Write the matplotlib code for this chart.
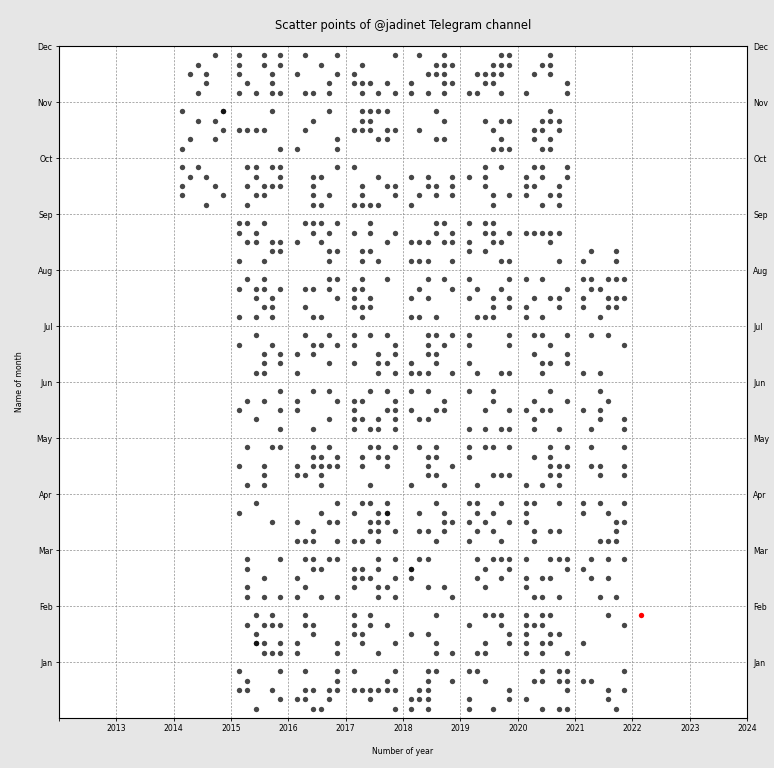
import matplotlib
matplotlib.use("Agg")
import matplotlib.pyplot as plt

# each month: 5 week rows, each row 6 weekday slots ('x' = post, '2' = two posts)
months = ["Jan", "Feb", "Mar", "Apr", "May", "Jun",
          "Jul", "Aug", "Sep", "Oct", "Nov", "Dec"]
years = list(range(2013, 2025))

posts_2014 = [
    "", "", "", "", "", "", "", "", "",
    "x.x... .x.x.. x...x. x....x ...x..",  # Oct
    "x....2 ..x.x. .....x .x..x. x.....",  # Nov
    "....x. ..x... .x.x.. ...x.. ..x...",  # Dec
]
posts_2015 = [
    "x....x .x.... xx..x. .....x ..x...",
    "..x.x. .x.xxx ..x... ..2x.x ...xxx",
    ".x...x .x.... ...x.. .x.... .x.x.x",
    "..x... x..... ....x. ...... ......",
    ".x..xx ...... x..x.. ...x.. .x.x..",
    ".....x .x.x.. x....x ..x... .....x",
    "..x... x...x. ...x.x ...x.x ..xx..",
    ".x.x.. x.xx.x ..x.x. ...xx. x.x.x.",
    "xx.x.. x.x... .xx.xx ....xx x..x..",
    ".xx.xx ..x..x .x.xxx ..xx.. .x....",
    "....x. ...... xxxx.. ...... .....x",
    "x..x.x x..x.x x...x. .x..x. x.x.xx",
]
posts_2016 = [
    ".x...x .....x .xx.xx xx..x. ..xx..",
    ".x.... .xx... ..x... x....x x....x",
    ".xx.xx ..xx.. x..... .x.... x..x.x",
    ".....x ...x.. x...xx ..x... xxx..x",
    "..x.x. ..xx.x x.xxxx xx.x.. ...x..",
    "..x.x. x....x x..... ....x. ..x...",
    ".x..x. ..xx.x x.x... ....x. x.....",
    "....xx .xx.x. .....x .x.... ..xx..",
    ".xxx.x ..x.x. x..x.. ....xx ....x.",
    ".....x ..xx.. ..x... ..x.x. ..xx..",
    "....x. ..x... .x.... .....x x....x",
    ".x...x ...x.. x....x ....x. .xx.x.",
]
posts_2017 = [
    "x....x ....x. xxxxxx ..x... .....x",
    "x.x... x.x.x. xx.... .x...x ...x..",
    "...x.x xx.x.. xxx..x x..xx. ...x.x",
    ".xx.x. x..x2. ..xxx. ..xx.x xx.x..",
    "..xx.x .x.xx. .x..x. ...... ..x...",
    "..x.x. xx...x x...xx xx.x.x x.xx.x",
    "x.x.x. x....x ...x.x x..xx. ...x.x",
    ".x..x. xx.... x.x... xxx... .x....",
    "..x... x.x..x ....x. .xx... .x.x..",
    "x..... ...x.. .x..xx .x...x xxxx..",
    ".xxxx. .xx... xxx.xx ...xx. ......",
    ".....x .x.... x..... xxx.x. .x.x.x",
]
posts_2018 = [
    "..xx.. ..x..x .xx... xxx... x.x...",
    "...x.. ...... x.x... ...x.. ...x.x",
    ".xx... 2..... x..... ..x.x. .....x",
    "...x.. .x..x. ....xx .xx.x. ...x..",
    ".x.x.. ..xx.. ..x..x ..xx.. x...x.",
    "x.x... ....x. x..xx. .xx... ......",
    "..xx.x ..x.x. ..xx.. x..x.. xxx..x",
    "..x.x. .x...x x.x... ...... xx.x..",
    "...xx. ...x.x xxx.xx ...... xxx..x",
    "...... x.x..x ..xx.x .x.x.x x.....",
    "...x.. ....x. .x.... ...xx. ......",
    ".x..x. ...xxx ..xxx. x...xx x.x.x.",
]
posts_2019 = [
    "xx.... ..x... .....x x....x x..x..",
    "..xxx. x...x. .....x ..x..x .xx...",
    ".x.xxx ..x..x .x..x. ..x... ......",
    "xx..x. .x.x.. x.x..x .x.x.. x...x.",
    "x.xx.x x..... ...... ...xxx .x....",
    "x..x.. ...x.. ..x..x ...... x.x.xx",
    "x....x x....x ...... x..... .x..xx",
    "x....x .x..x. x..x.x ...x.x .xxx..",
    "x.xx.. ..xx.x x..xx. x.x... ....xx",
    "..x.x. x.x... ..x... ...x.x ...x..",
    "...... ..x.xx ...x.. ....x. ...xxx",
    "....xx ...xxx .xxxx. ..xx.. xx..x.",
]
posts_2020 = [
    "..x.xx .xx.xx .....x x..... ..x.xx",
    "x.xx.. xxx... x..xx. x.xx.. x.x..x",
    "x..xxx .....x x.xx.. x..... .xx.x.",
    "xx..x. x..... x..... .x.xx. .x....",
    "...x.x .x.x.. ...xxx ...xx. x.x.x.",
    "...x.. .x...x x.xx.. .x.... .x..x.",
    ".xx..x ...x.. .x...x ..xx.x ..x...",
    "x.x... .....x .x.xx. x...x. x.x...",
    "...... xxxxx. ...x.. ...... ....x.",
    ".xx..x x.x..x xx..x. x..xx. ..x.x.",
    "...x.. ..xxx. .xx.x. .x.x.. ..xx..",
    "...x.. ..xx.. .x.x.. .....x x....x",
]
posts_2021 = [
    ".....x xx.... ...x.x ...x.. ....x.",
    "...x.. .....x ...... x..... ......",
    ".x.x.x x..... .x.x.. ...... ..x.x.",
    "x.x..x x..x.. ....xx ....x. ..xxx.",
    ".x...x ...... .xx..x ..x..x ......",
    "..x... ...x.. x.x... ..x..x .x...x",
    ".x.x.. .....x ...... ...... x.x...",
    "xx.xxx .xx... x..xxx x..xx. ..x...",
    "...... ...... ...... .x..x. x...x.",
    "", "", "",
]
# most recent post (year, month, weekday slot, week row)
latest = (2022, 2, 1, 1)

all_posts = {2014: posts_2014, 2015: posts_2015, 2016: posts_2016,
             2017: posts_2017, 2018: posts_2018, 2019: posts_2019,
             2020: posts_2020, 2021: posts_2021}


def to_xy(year, month, slot, week):
    return year + slot / 7, month - week / 6


xs, ys = [], []
for year, pats in all_posts.items():
    for m, pat in enumerate(pats, start=1):
        for w, row in enumerate(pat.split(), start=1):
            for s, c in enumerate(row, start=1):
                n = {"x": 1, "2": 2}.get(c, 0)
                for _ in range(n):
                    x, y = to_xy(year, m, s, w)
                    xs.append(x)
                    ys.append(y)

fig = plt.figure(figsize=(7.74, 7.68), dpi=100, facecolor="#e6e6e6")
ax = fig.add_axes([59 / 774, 1 - 718 / 768, 688 / 774, 672 / 768])
ax.set_facecolor("white")

ax.scatter(xs, ys, s=15, color="black", alpha=0.72, linewidths=0, zorder=3)
lx, ly = to_xy(*latest)
ax.scatter([lx], [ly], s=15, color="red", linewidths=0, zorder=4)

ax.set_xlim(2012, 2024)
ax.set_ylim(0, 12)
ax.set_xticks([2012] + years)
ax.set_xticklabels([""] + [str(y) for y in years])
ax.set_yticks(range(1, 13))
ax.set_yticklabels(months)
ax.tick_params(labelsize=5.6, length=2.5, width=0.6, labelright=True, pad=2)
ax.grid(True, linestyle=(0, (3, 2)), color="#8c8c8c", linewidth=0.5)
ax.set_axisbelow(True)
for sp in ax.spines.values():
    sp.set_linewidth(0.8)

ax.set_title("Scatter points of @jadinet Telegram channel", fontsize=8.3, pad=12)
ax.set_xlabel("Number of year", fontsize=5.6, labelpad=10)
ax.set_ylabel("Name of month", fontsize=5.6, labelpad=9)

fig.savefig("out.png", dpi=100, facecolor=fig.get_facecolor())
